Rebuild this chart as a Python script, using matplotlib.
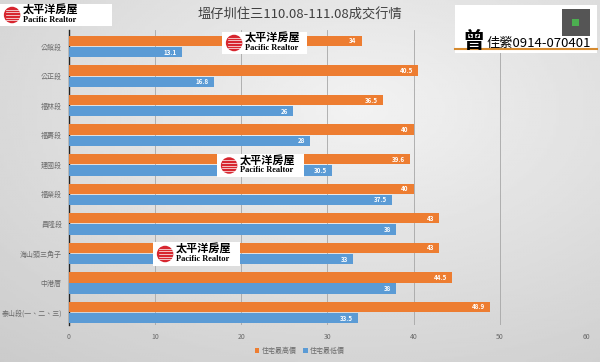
import matplotlib
matplotlib.use("Agg")
import matplotlib.pyplot as plt
import matplotlib.patches as mpatches
import numpy as np

plt.rcParams['font.family'] = ['Noto Sans CJK TC', 'DejaVu Sans']

categories = ['公館段', '公正段', '福林段', '福壽段', '建國段', '福榮段', '昌隆段',
              '海山頭三角子', '中港厝', '泰山段(一、二、三)']
high_vals = [34, 40.5, 36.5, 40, 39.6, 40, 43, 43, 44.5, 48.9]
low_vals = [13.1, 16.8, 26, 28, 30.5, 37.5, 38, 33, 38, 33.5]
series_names = ['住宅最高價', '住宅最低價']
title = '塭仔圳住三110.08-111.08成交行情'
xticks = [0, 10, 20, 30, 40, 50, 60]

ORANGE = '#ED7D31'
BLUE = '#5B9BD5'

W, H = 600, 362
fig = plt.figure(figsize=(W / 100, H / 100), dpi=100)
fig.patch.set_facecolor('#dcdcdc')

# background gradient
bg = fig.add_axes([0, 0, 1, 1], zorder=-10)
gx = np.linspace(0, 1, 200)
gy = np.linspace(0, 1, 200)
X, Y = np.meshgrid(gx, gy)
grad = 0.80 + 0.15 * (1 - np.sqrt((X - 0.6) ** 2 + (Y - 0.7) ** 2) / 0.9)
bg.imshow(grad, cmap='gray', vmin=0, vmax=1, aspect='auto', extent=[0, 1, 0, 1], origin='lower')
bg.axis('off')

ax = fig.add_axes([68.7 / W, 1 - 325 / H, (586 - 68.7) / W, (325 - 30) / H])
ax.set_facecolor('none')

y = np.arange(len(categories))
off = 0.19
bh = 0.35
ax.barh(y - off, high_vals, height=bh, color=ORANGE, label=series_names[0], zorder=3)
ax.barh(y + off, low_vals, height=bh, color=BLUE, label=series_names[1], zorder=3)

for yi, v in zip(y, high_vals):
    ax.text(v - 0.6, yi - off, f'{v:g}', ha='right', va='center', color='white',
            fontsize=4.5, fontweight='bold', zorder=4)
for yi, v in zip(y, low_vals):
    ax.text(v - 0.6, yi + off, f'{v:g}', ha='right', va='center', color='white',
            fontsize=4.5, fontweight='bold', zorder=4)

ax.set_xlim(0, 60)
ax.set_ylim(9.42, -0.56)
ax.set_yticks(y)
ax.set_yticklabels(categories, fontsize=5, color='#6a6a6a')
ax.set_xticks(xticks)
ax.set_xticklabels([str(t) for t in xticks], fontsize=5, color='#6a6a6a')
ax.tick_params(axis='y', length=0, pad=5)
ax.tick_params(axis='x', length=0, pad=6)
ax.grid(axis='x', color='#a6a6a6', linewidth=0.6, zorder=0)
for s in ['top', 'right', 'bottom']:
    ax.spines[s].set_visible(False)
ax.spines['left'].set_color('#222222')
ax.spines['left'].set_linewidth(1.0)

leg = fig.legend(loc='center', bbox_to_anchor=(0.5, 1 - 351 / H), ncol=2, frameon=False,
                 fontsize=5, handlelength=0.6, handleheight=0.6, handletextpad=0.3,
                 columnspacing=1.0, labelcolor='#6a6a6a')

fig.text(0.5, 1 - 15 / H, title, ha='center', va='center', fontsize=9.5, color='#404040')


def px(x, y_):
    return x / W, 1 - y_ / H


def logo(x0, y0, x1, y1):
    w, h = (x1 - x0) / W, (y1 - y0) / H
    fx, fy = px(x0, y1)
    fig.patches.append(mpatches.Rectangle((fx, fy), w, h, transform=fig.transFigure,
                                          facecolor='white', edgecolor='none', zorder=20))
    ch = 22
    cx, cy = px(x0 + ch * 0.55, (y0 + y1) / 2)
    fig.patches.append(mpatches.Ellipse((cx, cy), ch * 0.75 / W, ch * 0.75 / H,
                                        transform=fig.transFigure, facecolor='#d7262f',
                                        edgecolor='none', zorder=21))
    for k in range(-2, 3):
        sy = cy + k * ch * 0.12 / H
        fig.lines.append(plt.Line2D([cx - ch * 0.3 / W, cx + ch * 0.3 / W], [sy, sy],
                                    transform=fig.transFigure, color='white', lw=0.5, zorder=22))
    tx = x0 + ch * 1.05
    mid = (y0 + y1) / 2
    fig.text(*px(tx, mid - 4.5), '太平洋房屋', fontsize=8, fontweight='bold',
             ha='left', va='center', color='black', zorder=23)
    fig.text(*px(tx, mid + 5), 'Pacific Realtor', fontsize=6,
             fontweight='bold', family='Liberation Serif',
             ha='left', va='center', color='black', zorder=23)


logo(0, 4, 112, 26)
logo(222, 32, 307, 54)
logo(217, 154, 304, 177)
logo(153, 242, 240, 266)

# contact box top-right
fx, fy = px(455, 53)
fig.patches.append(mpatches.Rectangle((fx, fy), (597 - 455) / W, 48 / H, transform=fig.transFigure,
                                      facecolor='white', edgecolor='none', zorder=20))
qx, qy = px(562, 36)
fig.patches.append(mpatches.Rectangle((qx, qy), 28 / W, 27 / H, transform=fig.transFigure,
                                      facecolor='#555555', edgecolor='none', zorder=21))
fig.patches.append(mpatches.Rectangle((qx + 10 / W, qy + 10 / H), 7 / W, 7 / H, transform=fig.transFigure,
                                      facecolor='#4caf50', edgecolor='none', zorder=22))
fig.lines.append(plt.Line2D([455 / W, 597 / W], [1 - 49 / H, 1 - 49 / H], transform=fig.transFigure,
                            color='#d68a2e', lw=1.5, zorder=21))
fig.text(*px(462, 42), '曾', fontsize=16, fontweight='bold', ha='left', va='center',
         color='black', zorder=23)
fig.text(*px(486, 44), '佳縈0914-070401', fontsize=9.5, ha='left', va='center',
         color='black', zorder=23)

fig.savefig('out.png', dpi=100)
